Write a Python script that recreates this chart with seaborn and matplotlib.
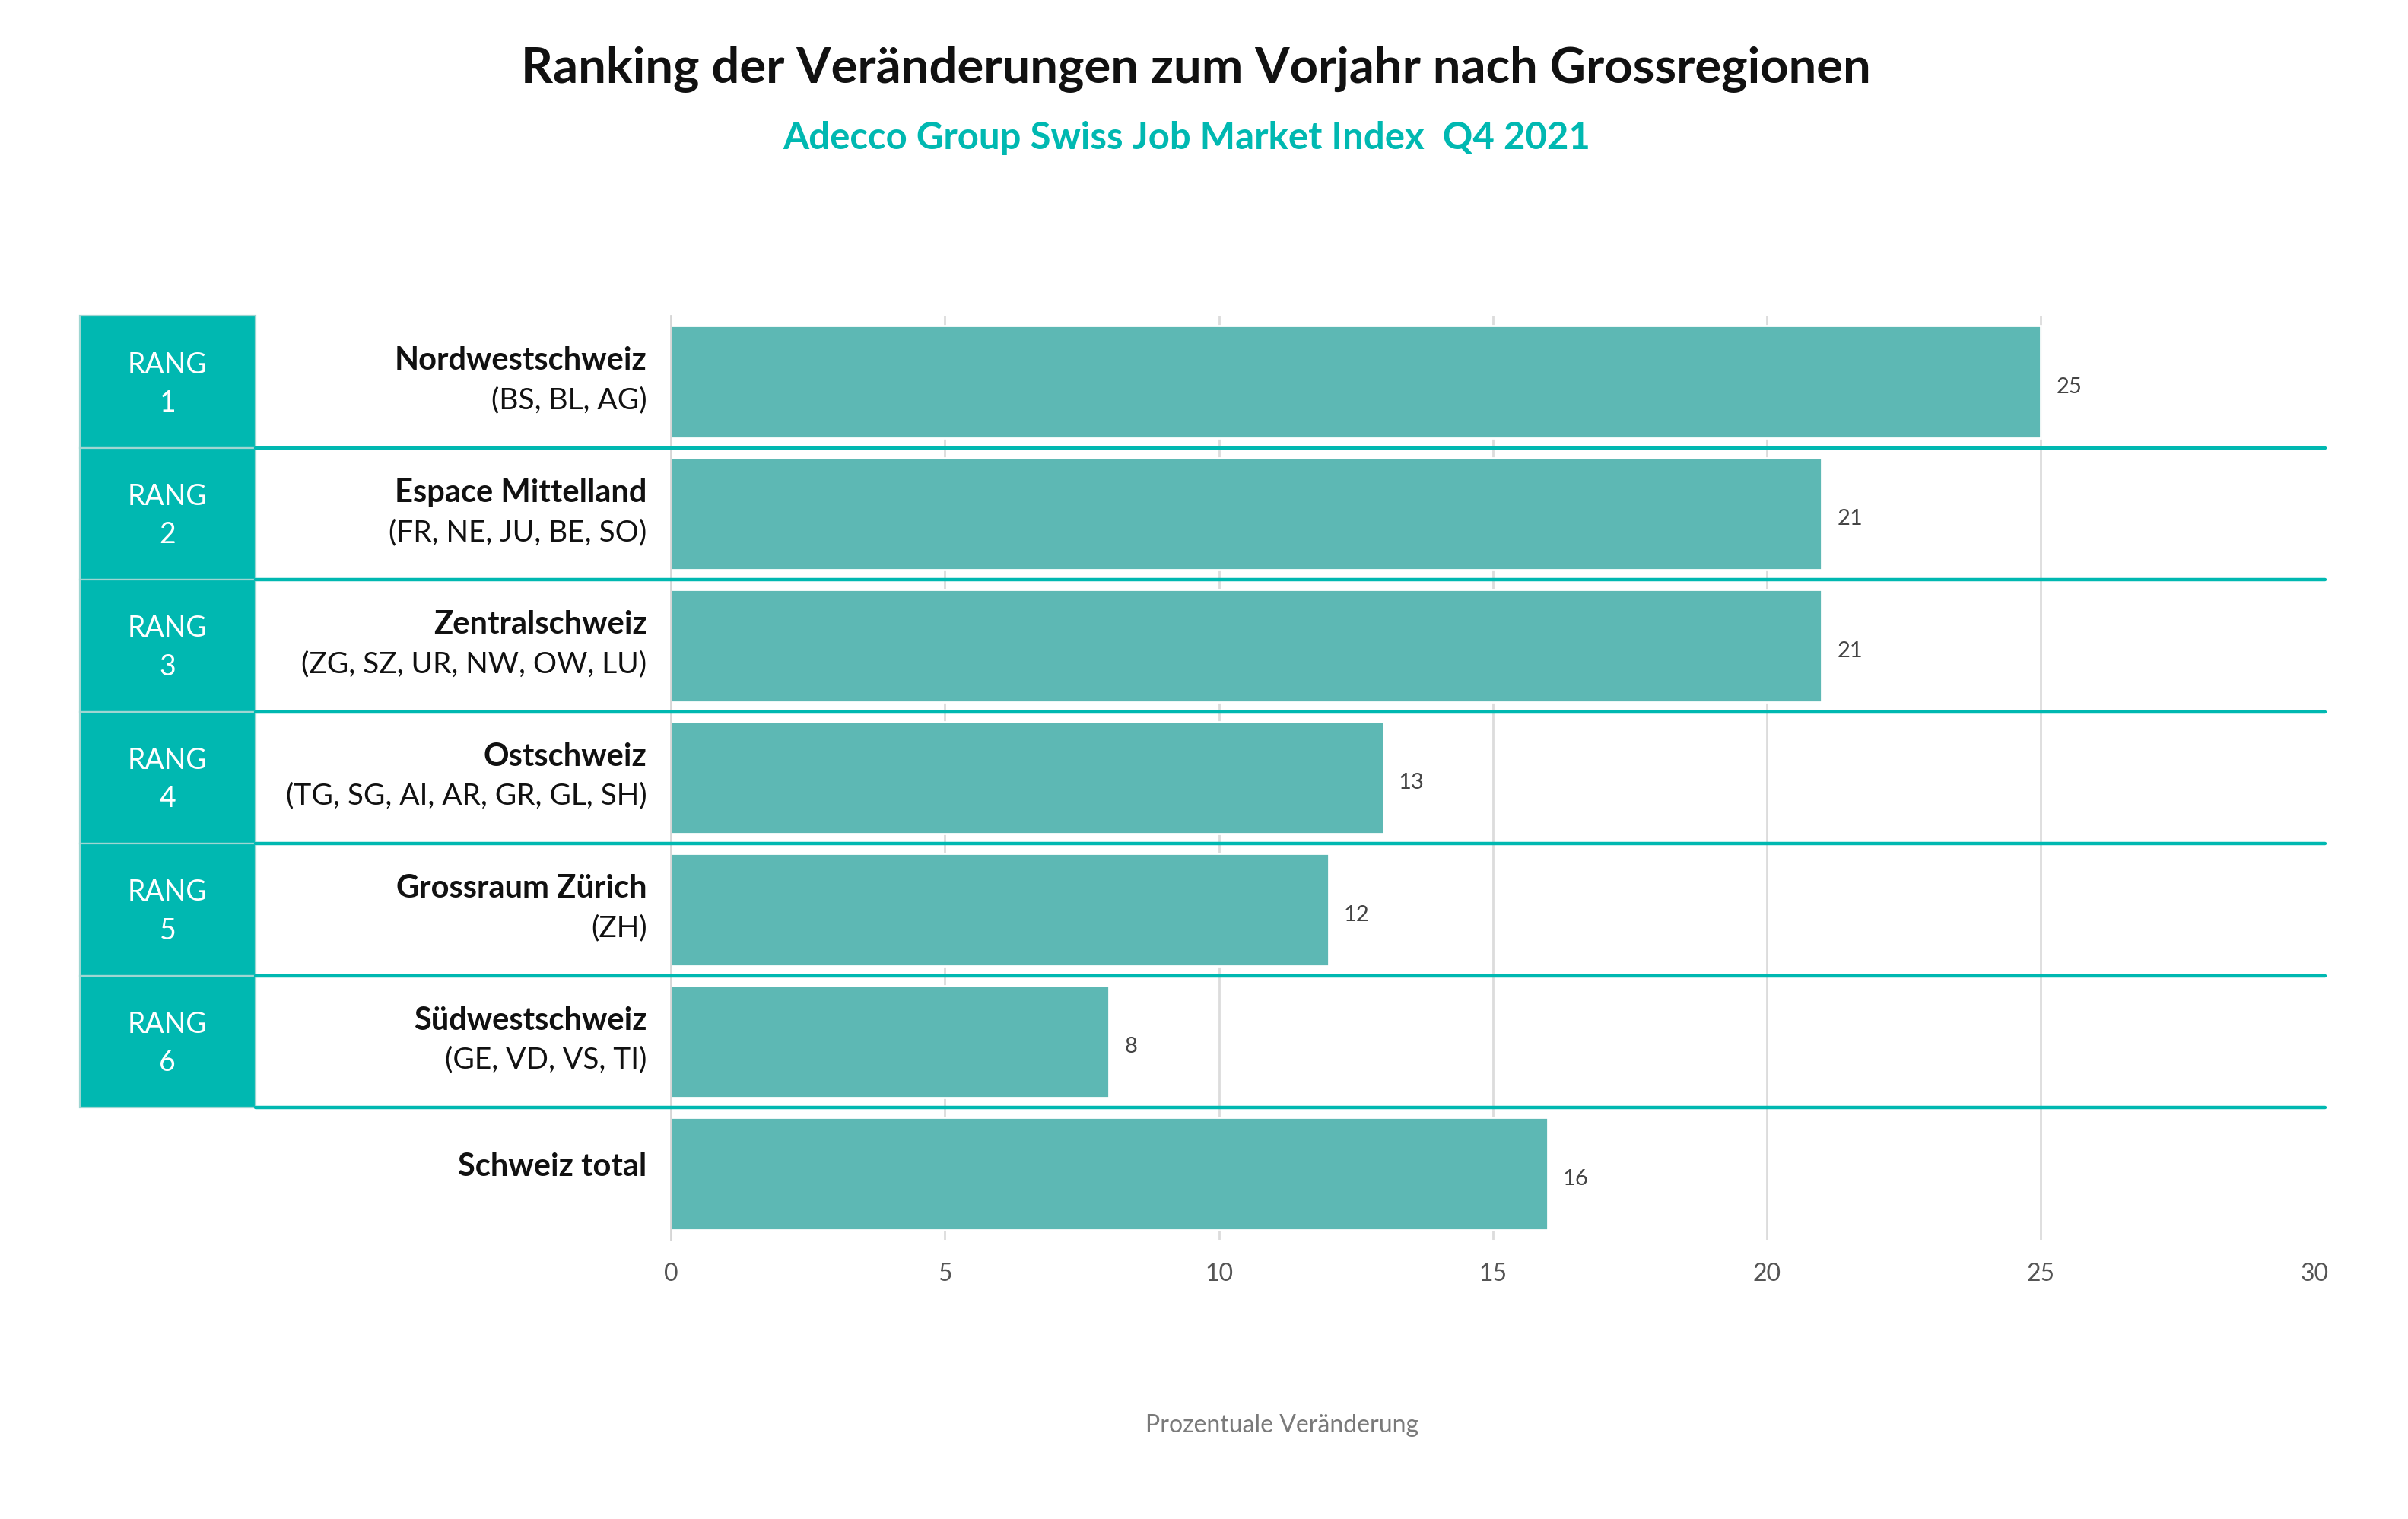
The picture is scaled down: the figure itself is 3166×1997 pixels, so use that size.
import matplotlib
matplotlib.use("Agg")
import matplotlib.pyplot as plt
import matplotlib.transforms as mtransforms
from matplotlib.patches import Rectangle
import seaborn as sns
import pandas as pd

# ---- data ----
regions = ["Nordwestschweiz", "Espace Mittelland", "Zentralschweiz", "Ostschweiz",
           "Grossraum Zürich", "Südwestschweiz", "Schweiz total"]
cantons = ["(BS, BL, AG)", "(FR, NE, JU, BE, SO)", "(ZG, SZ, UR, NW, OW, LU)",
           "(TG, SG, AI, AR, GR, GL, SH)", "(ZH)", "(GE, VD, VS, TI)", ""]
ranks = ["1", "2", "3", "4", "5", "6", ""]
values = [25, 21, 21, 13, 12, 8, 16]
xticks = [0, 5, 10, 15, 20, 25, 30]

title = "Ranking der Veränderungen zum Vorjahr nach Grossregionen"
subtitle = "Adecco Group Swiss Job Market Index  Q4 2021"
xlabel = "Prozentuale Veränderung"

BAR = "#5db8b4"
TEAL = "#00b8b1"

sns.set_theme(style="white")
plt.rcParams["font.family"] = ["Lato", "DejaVu Sans"]

df = pd.DataFrame({"region": regions, "value": values})

fig = plt.figure(figsize=(15.83, 9.985), dpi=200)
ax = fig.add_axes([0.2786, 0.184, 0.6827, 0.608])

sns.barplot(data=df, y="region", x="value", order=regions, color=BAR,
            orient="h", width=0.85, saturation=1, ax=ax, zorder=2)

ax.set_xlim(0, 30)
ax.set_ylim(len(regions) - 0.5, -0.5)
ax.set_xticks(xticks)
ax.set_xticklabels([str(t) for t in xticks], fontsize=11.5, color="#555555")
ax.tick_params(axis="x", length=0, pad=11)
ax.set_yticks([])
ax.set_ylabel("")
ax.set_xlabel("")
for s in ["top", "right", "bottom"]:
    ax.spines[s].set_visible(False)
ax.spines["left"].set_color("#d6d6d6")
ax.spines["left"].set_linewidth(1.0)
ax.grid(axis="x", color="#dcdcdc", linewidth=1.0, zorder=0)
ax.set_axisbelow(True)

# value labels
for i, v in enumerate(values):
    ax.text(v + 0.28, i + 0.04, str(v), va="center", ha="left", fontsize=10.5,
            color="#444444")

trans = mtransforms.blended_transform_factory(fig.transFigure, ax.transData)

# rank boxes
box_l, box_r = 0.0332, 0.1060
for i, r in enumerate(ranks):
    if r == "":
        continue
    rect = Rectangle((box_l, i - 0.5), box_r - box_l, 1.0, transform=trans,
                     facecolor=TEAL, edgecolor="#9fd6d2", linewidth=0.8,
                     clip_on=False, zorder=3)
    ax.add_patch(rect)
    ax.text(0.5 * (box_l + box_r), i - 0.13, "RANG", transform=trans, ha="center",
            va="center", fontsize=13.5, color="white", zorder=6)
    ax.text(0.5 * (box_l + box_r), i + 0.16, r, transform=trans, ha="center",
            va="center", fontsize=13.5, color="white", zorder=6)

# separator lines
for i in range(len(regions) - 1):
    ax.plot([box_r, 0.9656], [i + 0.5, i + 0.5], transform=trans, color=TEAL,
            linewidth=1.6, clip_on=False, zorder=4)

# row labels
lx = 0.2686
for i, (reg, can) in enumerate(zip(regions, cantons)):
    if can:
        ax.text(lx, i - 0.16, reg, transform=trans, ha="right", va="center",
                fontsize=15, fontweight="bold", color="#111111")
        ax.text(lx, i + 0.14, can, transform=trans, ha="right", va="center",
                fontsize=14, color="#111111")
    else:
        ax.text(lx, i - 0.05, reg, transform=trans, ha="right", va="center",
                fontsize=15, fontweight="bold", color="#111111")

fig.text(0.4968, 0.954, title, ha="center", va="center", fontsize=23.5,
         fontweight="bold", color="#111111")
fig.text(0.4927, 0.909, subtitle, ha="center", va="center", fontsize=17.7,
         fontweight="bold", color=TEAL)
fig.text(0.5324, 0.0616, xlabel, ha="center", va="center", fontsize=11.5,
         color="#7a7a7a")

fig.savefig("out.png", dpi=200, facecolor="white")
